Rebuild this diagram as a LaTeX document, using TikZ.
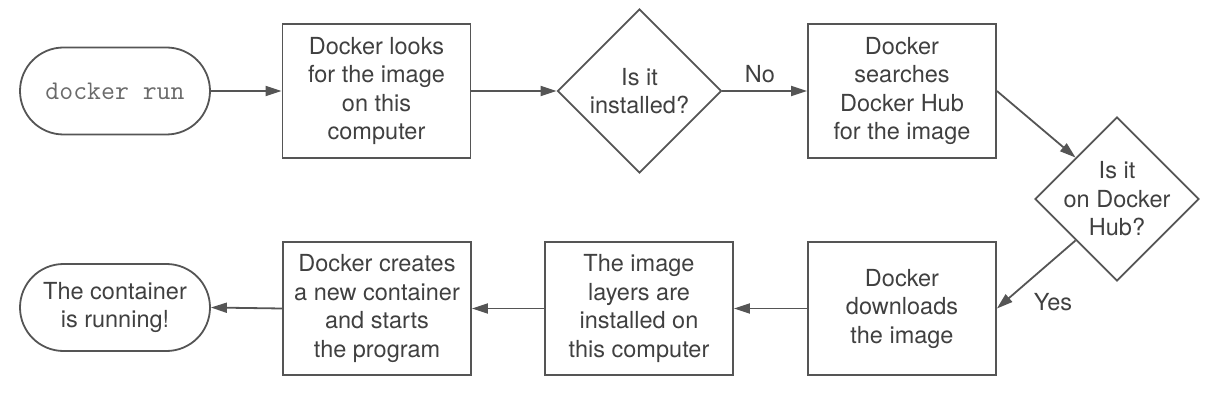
\documentclass[tikz,border=0pt]{standalone}
\usepackage{fontspec}
\setmainfont{TeX Gyre Heros}
\usetikzlibrary{shapes.geometric,arrows.meta}
\definecolor{linecol}{HTML}{555555}
\definecolor{txtcol}{HTML}{404040}
\definecolor{monocol}{HTML}{6A6A6A}
\tikzset{
  every node/.style={font=\fontsize{23.5}{28.5}\selectfont, text=txtcol},
  procbox/.style={draw=linecol, line width=1.8pt, rectangle, minimum width=188pt, minimum height=134pt, align=center, inner sep=0pt},
  termbox/.style={draw=linecol, line width=1.8pt, rectangle, rounded corners=43.5pt, minimum width=190pt, minimum height=87pt, align=center, inner sep=0pt},
  decbox/.style={draw=linecol, line width=1.8pt, diamond, minimum width=164pt, minimum height=164pt, align=center, inner sep=-30pt},
  flow/.style={draw=linecol, line width=1.8pt, -{Triangle[length=16pt,width=10pt]}},
  lbl/.style={inner sep=0pt}
}
\begin{document}
\begin{tikzpicture}[x=1pt,y=-1pt]
\useasboundingbox (0,0) rectangle (1232,406);
\node[termbox] (t1) at (115,91) {\ttfamily\fontsize{27}{30}\selectfont\color{monocol}docker run};
\node[procbox] (b1) at (376.5,91) {Docker looks\\for the image\\on this\\computer};
\node[decbox] (d1) at (639.5,91) {Is it\\installed?};
\node[procbox] (b2) at (902,91) {Docker\\searches\\Docker Hub\\for the image};
\node[decbox] (d2) at (1117,199) {Is it\\on Docker\\Hub?};
\node[procbox, minimum height=133pt] (b3) at (902,308.5) {Docker\\downloads\\the image};
\node[procbox, minimum height=133pt] (b4) at (639,308.5) {The image\\layers are\\installed on\\this computer};
\node[procbox, minimum height=133pt] (b5) at (377,308.5) {Docker creates\\a new container\\and starts\\the program};
\node[termbox] (t2) at (115,307.5) {The container\\is running!};
\node[lbl] (no) at (760,74) {No};
\node[lbl] (yes) at (1053,302) {Yes};
\draw[flow] (t1.east) -- (b1.west);
\draw[flow] (b1.east) -- (d1.west);
\draw[flow] (d1.east) -- (b2.west);
\draw[flow] (b2.east) -- (d2.north west);
\draw[flow] (d2.south west) -- (b3.east);
\draw[flow] (b3.west) -- (b4.east);
\draw[flow] (b4.west) -- (b5.east);
\draw[flow] (b5.west) -- (t2.east);
\end{tikzpicture}
\end{document}
